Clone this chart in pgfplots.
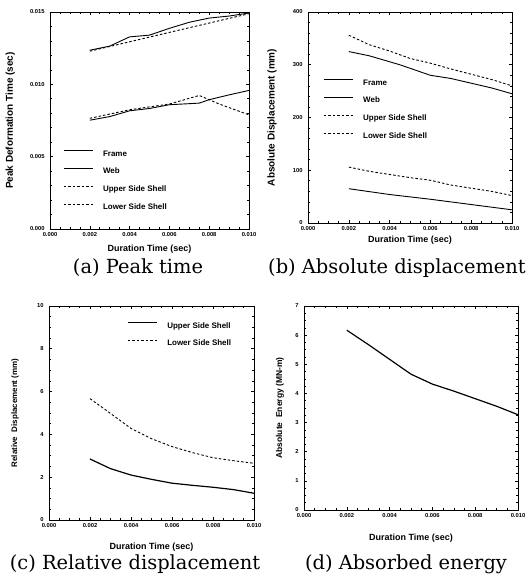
\documentclass[border=0pt]{standalone}
\usepackage{pgfplots}
\pgfplotsset{compat=1.18}
\usepackage{fontspec}
\setmainfont{Liberation Serif}
\newfontfamily\axfont{Liberation Sans}
\newfontfamily\capfont{DejaVu Serif}

\pgfplotsset{
  panel/.style={
    scale only axis,
    axis line style={line width=0.8bp},
    xmin=0, xmax=0.010,
    xtick={0,0.002,0.004,0.006,0.008,0.010},
    xticklabels={0.000,0.002,0.004,0.006,0.008,0.010},
    scaled x ticks=false, scaled y ticks=false,
    /pgf/number format/assume math mode=true,
    minor x tick num=3,
    tick align=inside,
    major tick length=3bp, minor tick length=1.8bp,
    every tick/.style={black, line width=0.6bp},
    ticklabel style={font=\axfont\bfseries\fontsize{5.8}{7}\selectfont},
    yticklabel style={xshift=-2bp},
    xlabel style={font=\axfont\bfseries\fontsize{9}{10}\selectfont},
    ylabel style={font=\axfont\bfseries\fontsize{10}{11}\selectfont},
    xlabel={Duration Time (sec)},
    legend cell align=left,
    legend image code/.code={\draw[##1] (0bp,2.6bp) -- (29bp,2.6bp);},
    legend style={draw=none, fill=none, anchor=north west,
      inner sep=0pt, row sep=12bp,
      font=\axfont\bfseries\fontsize{8}{9}\selectfont,
      nodes={inner sep=0pt, text height=5.5bp, text depth=0pt},
      /tikz/every odd column/.append style={column sep=10bp}},
  },
  sol/.style={black, line width=0.9bp},
  dsh/.style={black, line width=0.9bp, dash pattern=on 2.5bp off 2bp},
}
\tikzset{figcap/.style={anchor=base, inner sep=0pt, font=\capfont\fontsize{19.5}{22}\selectfont}}

\begin{document}
\begin{tikzpicture}
\useasboundingbox (0,0) rectangle (531bp,579bp);

% (a) peak time
\begin{axis}[panel, at={(50bp,350bp)}, anchor=south west,
  width=199bp, height=217bp,
  ymin=0, ymax=0.015,
  ytick={0,0.005,0.010,0.015},
  yticklabels={0.000,0.005,0.010,0.015},
  minor y tick num=4,
  ylabel={Peak Deformation Time (sec)},
  ylabel style={at={(axis description cs:-0.2,0.5)}, anchor=center},
  xlabel style={at={(axis description cs:0.5,-0.095)}, anchor=center},
  legend style={at={(axis description cs:0.065,0.364)}}]
\addplot[sol] coordinates {(0.002,0.01236) (0.003,0.01264) (0.004,0.01328) (0.005,0.0134)
  (0.006,0.01387) (0.007,0.01429) (0.008,0.01458) (0.009,0.01472) (0.010,0.01493)};
\addlegendentry{Frame}
\addplot[sol] coordinates {(0.002,0.00752) (0.003,0.00777) (0.004,0.00817) (0.005,0.00833)
  (0.006,0.00859) (0.0075,0.0087) (0.008,0.00894) (0.009,0.00927) (0.010,0.00958)};
\addlegendentry{Web}
\addplot[dsh] coordinates {(0.002,0.01229) (0.006,0.01359) (0.010,0.01488)};
\addlegendentry{Upper Side Shell}
\addplot[dsh] coordinates {(0.002,0.00765) (0.004,0.00824) (0.006,0.00864) (0.0075,0.00923)
  (0.0085,0.00864) (0.010,0.00789)};
\addlegendentry{Lower Side Shell}
\end{axis}

% (b) absolute displacement
\begin{axis}[panel, at={(308bp,356bp)}, anchor=south west,
  width=204bp, height=211bp,
  ymin=0, ymax=400,
  ytick={0,100,200,300,400},
  minor y tick num=4,
  ylabel={Absolute Displacement (mm)},
  ylabel style={at={(axis description cs:-0.176,0.5)}, anchor=center},
  xlabel style={at={(axis description cs:0.5,-0.08)}, anchor=center},
  legend style={at={(axis description cs:0.074,0.682)}}]
\addplot[sol] coordinates {(0.002,325) (0.003,317) (0.0045,300) (0.006,280) (0.007,274)
  (0.008,265) (0.009,256) (0.010,245)};
\addlegendentry{Frame}
\addplot[sol] coordinates {(0.002,65) (0.004,54) (0.006,45) (0.008,35) (0.010,25)};
\addlegendentry{Web}
\addplot[dsh] coordinates {(0.002,356) (0.003,338) (0.004,326) (0.005,312) (0.006,303)
  (0.007,292) (0.008,282) (0.009,272) (0.010,260)};
\addlegendentry{Upper Side Shell}
\addplot[dsh] coordinates {(0.002,106) (0.003,98) (0.004,92) (0.005,86) (0.006,81)
  (0.007,72) (0.008,66) (0.009,60) (0.010,52)};
\addlegendentry{Lower Side Shell}
\end{axis}

% (c) relative displacement
\begin{axis}[panel, at={(49bp,59bp)}, anchor=south west,
  width=205bp, height=214bp,
  ymin=0, ymax=10,
  ytick={0,2,4,6,8,10},
  minor y tick num=3,
  ylabel={Relative\ \ Displacement (mm)},
  ylabel style={at={(axis description cs:-0.166,0.5)}, anchor=center,
    font=\axfont\bfseries\fontsize{8}{9}\selectfont},
  xlabel style={at={(axis description cs:0.5,-0.126)}, anchor=center},
  legend style={at={(axis description cs:0.38,0.925)}, row sep=11.5bp}]
\addplot[black, line width=1.2bp] coordinates {(0.002,2.85) (0.003,2.4) (0.004,2.1) (0.005,1.9)
  (0.006,1.72) (0.007,1.62) (0.008,1.53) (0.009,1.42) (0.010,1.25)};
\addlegendentry{Upper Side Shell}
\addplot[dsh] coordinates {(0.002,5.67) (0.003,4.98) (0.004,4.28) (0.005,3.8) (0.006,3.43)
  (0.007,3.15) (0.008,2.91) (0.009,2.77) (0.010,2.65)};
\addlegendentry{Lower Side Shell}
\end{axis}

% (d) absorbed energy
\begin{axis}[panel, at={(304bp,69bp)}, anchor=south west,
  width=214bp, height=204bp,
  ymin=0, ymax=7,
  ytick={0,1,2,3,4,5,6,7},
  minor y tick num=3,
  ylabel={Absolute\ \ Energy (MN-m)},
  ylabel style={at={(axis description cs:-0.112,0.5)}, anchor=center,
    font=\axfont\bfseries\fontsize{8.5}{9}\selectfont},
  xlabel style={at={(axis description cs:0.5,-0.137)}, anchor=center}]
\addplot[black, line width=1.2bp] coordinates {(0.002,6.17) (0.003,5.68) (0.004,5.17)
  (0.005,4.66) (0.006,4.32) (0.007,4.08) (0.008,3.82) (0.009,3.56) (0.010,3.27)};
\end{axis}

% captions
\node[figcap] at (138bp,305bp) {(a) Peak time};
\node[figcap] at (397bp,305bp) {(b) Absolute displacement};
\node[figcap] at (135bp,10bp) {(c) Relative displacement};
\node[figcap] at (406bp,10bp) {(d) Absorbed energy};
\end{tikzpicture}
\end{document}
